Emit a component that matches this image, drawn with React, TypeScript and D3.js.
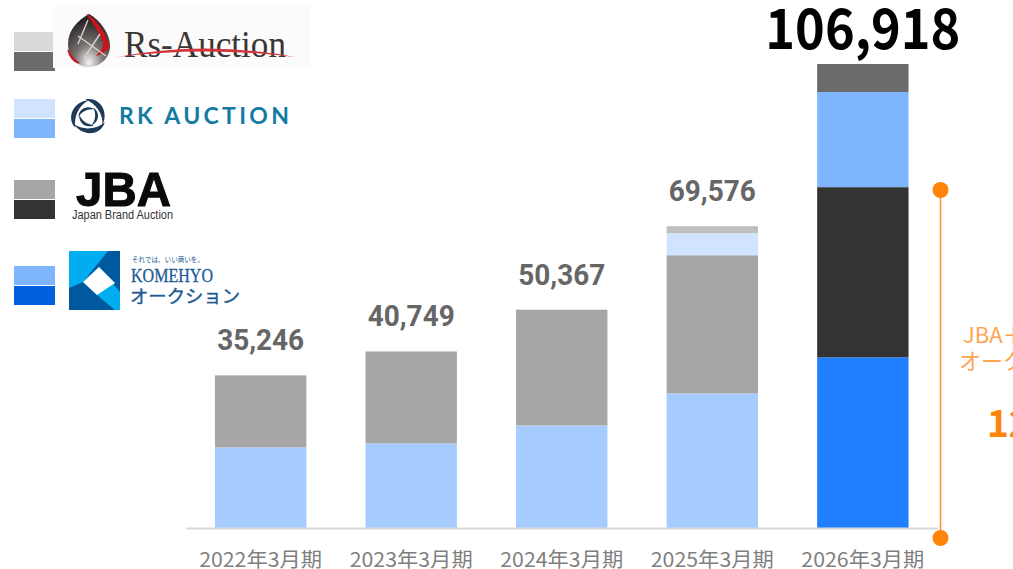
import * as d3 from "d3";
import { useEffect, useRef } from "react";

const years = ["2022年3月期", "2023年3月期", "2024年3月期", "2025年3月期", "2026年3月期"];
const totals = [35246, 40749, 50367, 69576, 106918];
const komehyo = [18660, 19590, 23730, 31100, 39400];
const jba = [16586, 21159, 26637, 31800, 39170];
const rk = [0, 0, 0, 5070, 21898];
const rs = [0, 0, 0, 1606, 6450];

const seriesKeys = ["komehyo", "jba", "rk", "rs"];
const pastColors = ["#a6ccff", "#a6a6a6", "#d0e4ff", "#bfbfbf"];
const latestColors = ["#2080ff", "#333333", "#7fb5ff", "#6b6b6b"];

// light swatch, dark swatch for each auction
const legendColors = [
    ["#d9d9d9", "#6b6b6b"],
    ["#d0e4ff", "#7fb5ff"],
    ["#a6a6a6", "#333333"],
    ["#7fb5ff", "#0060dd"],
];
const legendTops = [32, 99, 180, 266];

const JP = "'Noto Sans CJK JP', 'Noto Sans', sans-serif";

function App() {
    const ref = useRef<SVGSVGElement | null>(null);

    useEffect(() => {
        const svg = d3.select(ref.current);
        svg.selectAll("*").remove();

        const rows = years.map((y, i) => ({
            year: y,
            komehyo: komehyo[i],
            jba: jba[i],
            rk: rk[i],
            rs: rs[i],
        }));

        const x = d3.scaleBand().domain(years).range([185.3, 938.2]).paddingInner(0.393).paddingOuter(0.197);
        const y = d3.scaleLinear().domain([0, 106918]).range([528.5, 64]);

        const stacked = d3.stack().keys(seriesKeys)(rows as any);

        // bars
        stacked.forEach((layer, li) => {
            svg.append("g")
                .selectAll("rect")
                .data(layer)
                .enter()
                .append("rect")
                .attr("x", (d: any) => x(d.data.year) as number)
                .attr("y", d => y(d[1]))
                .attr("width", x.bandwidth())
                .attr("height", d => y(d[0]) - y(d[1]))
                .attr("fill", (d: any) => (d.data.year === years[4] ? latestColors[li] : pastColors[li]));
        });

        // baseline
        svg.append("line")
            .attr("x1", 186).attr("x2", 938)
            .attr("y1", 528.5).attr("y2", 528.5)
            .attr("stroke", "#d9d9d9").attr("stroke-width", 2);

        // category labels
        svg.append("g")
            .selectAll("text")
            .data(years)
            .enter()
            .append("text")
            .attr("x", d => (x(d) as number) + x.bandwidth() / 2)
            .attr("y", 567)
            .attr("text-anchor", "middle")
            .style("font-family", JP)
            .style("font-size", "20px")
            .attr("textLength", 123)
            .attr("lengthAdjust", "spacingAndGlyphs")
            .attr("fill", "#7f7f7f")
            .text(d => d);

        // totals, the last one is set larger in another face
        svg.append("g")
            .selectAll("text")
            .data(totals)
            .enter()
            .append("text")
            .attr("x", (_, i) => (x(years[i]) as number) + x.bandwidth() / 2)
            .attr("y", (d, i) => (i === 4 ? 48.5 : y(d) - 25))
            .attr("text-anchor", "middle")
            .style("font-family", (_, i) => (i === 4 ? JP : "Roboto, sans-serif"))
            .style("font-weight", 700)
            .style("font-size", (_, i) => (i === 4 ? "56px" : "29px"))
            .attr("textLength", (_, i) => (i === 4 ? 195 : 87))
            .attr("lengthAdjust", "spacingAndGlyphs")
            .attr("fill", (_, i) => (i === 4 ? "#000000" : "#666666"))
            .text(d => d3.format(",")(d));

        // orange bracket
        svg.append("line")
            .attr("x1", 940.5).attr("x2", 940.5)
            .attr("y1", 190).attr("y2", 538)
            .attr("stroke", "#ff9530").attr("stroke-width", 1.6);
        svg.selectAll("circle.end")
            .data([190, 538])
            .enter()
            .append("circle")
            .attr("cx", 940.5)
            .attr("cy", d => d)
            .attr("r", 8)
            .attr("fill", "#ff8409");

        const note = svg.append("g").attr("fill", "#ffa552").style("font-family", JP).style("font-size", "22px");
        note.append("text").attr("x", 963).attr("y", 343).text("JBA＋");
        note.append("text").attr("x", 959).attr("y", 369).text("オーク");
        svg.append("text")
            .attr("x", 987).attr("y", 437)
            .attr("fill", "#ff8409")
            .style("font-family", JP)
            .style("font-weight", 700)
            .style("font-size", "37px")
            .text("12");

        // legend swatches
        legendColors.forEach((pair, i) => {
            const top = legendTops[i];
            svg.append("rect").attr("x", 14).attr("y", top).attr("width", 41).attr("height", 19).attr("fill", pair[0]);
            svg.append("rect").attr("x", 14).attr("y", top + 20).attr("width", 41).attr("height", 19).attr("fill", pair[1]);
        });

        // Rs-Auction logo
        const defs = svg.append("defs");
        const orb = defs.append("radialGradient").attr("id", "orb").attr("cx", "50%").attr("cy", "92%").attr("r", "80%");
        orb.append("stop").attr("offset", "0%").attr("stop-color", "#f4f4f4");
        orb.append("stop").attr("offset", "45%").attr("stop-color", "#77716f");
        orb.append("stop").attr("offset", "100%").attr("stop-color", "#2a2626");

        svg.append("rect").attr("x", 53).attr("y", 6).attr("width", 257).attr("height", 62).attr("fill", "#fbfbfb");
        const rsLogo = svg.append("g");
        rsLogo.append("path")
            .attr("d", "M89 14 C100 20 110 34 110 46 C110 58 100 67 89 67 C78 67 68 58 68 44 C68 30 78 20 89 14 Z")
            .attr("fill", "url(#orb)");
        rsLogo.append("path").attr("d", "M86 14 C94 16 106 32 110 47 C106 52 100 55 96 56 C102 50 104 46 103 42 C98 30 92 22 86 14 Z")
            .attr("fill", "#c8161d");
        rsLogo.append("path").attr("d", "M68 50 C70 56 74 60 79 63 C75 62 70 58 68 50 Z")
            .attr("fill", "#c8161d").attr("stroke", "#c8161d").attr("stroke-width", 1.5);
        rsLogo.append("path").attr("d", "M88 20 L78 44 M78 36 L106 56 M100 34 L84 58")
            .attr("fill", "none").attr("stroke", "#d8d0d0").attr("stroke-width", 1.4);
        rsLogo.append("text")
            .attr("x", 124).attr("y", 57)
            .style("font-family", "'Liberation Serif', serif")
            .style("font-size", "37px")
            .attr("textLength", 162)
            .attr("lengthAdjust", "spacingAndGlyphs")
            .attr("fill", "#3d3533")
            .text("Rs-Auction");
        rsLogo.append("path").attr("d", "M117 57 Q205 40 295 57 Q205 46 117 57 Z").attr("fill", "#d4343a");

        // RK AUCTION logo, three swirl blades
        const rkLogo = svg.append("g").attr("transform", "translate(88.5,116.5)").attr("fill", "#1d3a56");
        [0, 120, 240].forEach(angle => {
            rkLogo.append("path")
                .attr("d", "M-3 -17 C10 -20 21 -6 14 9 C15 -3 7 -13 -3 -17 Z")
                .attr("transform", `rotate(${angle})`);
            rkLogo.append("path")
                .attr("d", "M-2 -10 C6 -11 12 -3 8 5 C8 -2 4 -7 -2 -10 Z")
                .attr("transform", `rotate(${angle + 40})`);
        });
        svg.append("text")
            .attr("x", 119).attr("y", 123.5)
            .style("font-family", "Lato, sans-serif")
            .style("font-weight", 700)
            .style("font-size", "23px")
            .attr("textLength", 170)
            .attr("fill", "#137ba3")
            .text("RK AUCTION");

        // JBA logo
        svg.append("text")
            .attr("x", 76).attr("y", 206)
            .style("font-family", "'Liberation Sans', sans-serif")
            .style("font-weight", 700)
            .style("font-size", "49px")
            .attr("textLength", 95)
            .attr("lengthAdjust", "spacingAndGlyphs")
            .attr("fill", "#0a0a0a")
            .attr("stroke", "#0a0a0a")
            .attr("stroke-width", 1)
            .text("JBA");
        svg.append("text")
            .attr("x", 72).attr("y", 219)
            .style("font-family", "'Liberation Sans', sans-serif")
            .style("font-size", "12px")
            .attr("textLength", 101)
            .attr("lengthAdjust", "spacingAndGlyphs")
            .attr("fill", "#333333")
            .text("Japan Brand Auction");

        // KOMEHYO logo
        const kLogo = svg.append("g");
        kLogo.append("rect").attr("x", 69).attr("y", 251).attr("width", 51).attr("height", 59).attr("fill", "#00aeef");
        kLogo.append("path").attr("d", "M108 251 H120 V292 L99 267 L83 282 Z").attr("fill", "#00589f");
        kLogo.append("path").attr("d", "M69 288 L83 282 L97 295 L115 310 H69 Z").attr("fill", "#00589f");
        kLogo.append("path").attr("d", "M99 267 L115 283 L97 295 L83 282 Z").attr("fill", "#ffffff");
        svg.append("text")
            .attr("x", 132).attr("y", 262)
            .style("font-family", JP)
            .style("font-size", "7px")
            .attr("textLength", 72)
            .attr("lengthAdjust", "spacingAndGlyphs")
            .attr("fill", "#1d5b92")
            .text("それでは、いい商いを。");
        svg.append("text")
            .attr("x", 131).attr("y", 282)
            .style("font-family", "'Liberation Serif', serif")
            .style("font-size", "18px")
            .attr("textLength", 82)
            .attr("lengthAdjust", "spacingAndGlyphs")
            .attr("fill", "#1d5b92")
            .attr("stroke", "#1d5b92")
            .attr("stroke-width", 0.3)
            .text("KOMEHYO");
        svg.append("text")
            .attr("x", 130).attr("y", 303)
            .style("font-family", JP)
            .style("font-size", "18px")
            .attr("textLength", 110)
            .attr("lengthAdjust", "spacingAndGlyphs")
            .attr("fill", "#1d5b92")
            .attr("stroke", "#1d5b92")
            .attr("stroke-width", 0.4)
            .text("オークション");
    }, []);

    return (
        <svg
            ref={ref}
            width={1013}
            height={569}
            style={{ position: "absolute", left: 0, top: 0, background: "#ffffff" }}
        />
    );
}

export default App;
